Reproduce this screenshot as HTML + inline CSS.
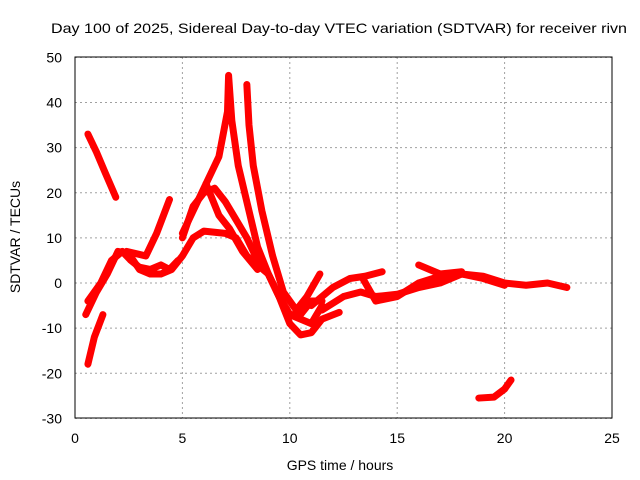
<!DOCTYPE html>
<html><head><meta charset="utf-8"><style>
body{margin:0;background:#fff}
svg{display:block;font-family:"Liberation Sans",sans-serif}
</style></head><body>
<svg id="chart" width="640" height="480" viewBox="0 0 640 480">
<rect width="640" height="480" fill="#fff"/>
<text x="339" y="33" font-size="14" text-anchor="middle" textLength="576" lengthAdjust="spacingAndGlyphs">Day 100 of 2025, Sidereal Day-to-day VTEC variation (SDTVAR) for receiver rivn</text>
<g id="grid"></g>
<g id="series"></g>
<rect x="75" y="57" width="537" height="361" fill="none" stroke="#000" stroke-width="1"/>
<text x="340" y="470" font-size="14" text-anchor="middle">GPS time / hours</text>
<text x="0" y="0" font-size="14" text-anchor="middle" transform="translate(20,237) rotate(-90)">SDTVAR / TECUs</text>
</svg>
<script>
const xTicks=[0,5,10,15,20,25];
const yTicks=[50,40,30,20,10,0,-10,-20,-30];
const s1t=[0.6,1.0,1.4,1.9], s1v=[33,29,24.5,19];
const s2t=[0.6,0.9,1.3], s2v=[-18,-12,-7];
const s3t=[0.5,1,1.5,2,2.5,3,3.5,4,4.5,5,5.5,6,7,7.5,8,9,9.5,10,10.5,11,11.5,12.3];
const s3v=[-7,-2,2,7,6.5,3,2,2,3,6,10,11.5,11,10,6,2,-3,-9,-11.5,-11,-8,-6.5];
const s4t=[0.6,1.2,1.7,2.2,2.6,3,3.5,4,4.4,4.8], s4v=[-4,0,5,7,5,3.5,3,4,3,5];
const s5t=[2.4,3.3,3.8,4.4], s5v=[7,6,11,18.5];
const s6t=[5,5.5,6,6.5,7,7.5,8,8.5,9,9.5,10,10.5,11,11.5], s6v=[10,17,20,21,18,14,10,5,2,-3,-7,-7,-4,-4];
const s7t=[5,5.7,6.2,6.7,7.1,7.15,7.3,7.6,8,8.5,9,9.5,10,11,11.5], s7v=[11,18,23,28,38,46,36,26,18,8,2,-3,-7,-9,-5];
const s8t=[8,8.1,8.3,8.7,9.2,9.7,10.3,10.8,11.4], s8v=[44,35,26,16,6,-2,-6,-3,2];
const s9t=[6.1,6.7,7.2,7.8,8.5], s9v=[22,15,12,7,3];
const s10t=[11,12,12.8,13.5,14.3], s10v=[-5,-1,1,1.5,2.5];
const s11t=[11.5,12.5,13.3,14,15,16,17,18,19,20,21,22,22.9], s11v=[-6,-3,-2,-3,-2.5,-1,0,2,1.5,0,-0.5,0,-1];
const s12t=[13.4,14,15,16,17,18,19,20], s12v=[1,-4,-3,0,1.5,2,1,-0.5];
const s13t=[16,17,18], s13v=[4,2,2.5];
const s14t=[18.8,19.5,20,20.3], s14v=[-25.5,-25.3,-23.5,-21.5];
const allSeries=[[s1t,s1v],[s2t,s2v],[s3t,s3v],[s4t,s4v],[s5t,s5v],[s6t,s6v],[s7t,s7v],[s8t,s8v],[s9t,s9v],[s10t,s10v],[s11t,s11v],[s12t,s12v],[s13t,s13v],[s14t,s14v]];
const NS='http://www.w3.org/2000/svg';
const X=t=>75+t*(537/25);
const Y=v=>283-v*(361/80);
const grid=document.getElementById('grid');
xTicks.forEach(t=>{
  const l=document.createElementNS(NS,'line');
  
  
  l.setAttribute('x1',X(t));l.setAttribute('x2',X(t));l.setAttribute('y1',57);l.setAttribute('y2',418);
  l.setAttribute('stroke','#a0a0a0');l.setAttribute('stroke-dasharray','2,3');
  grid.appendChild(l);
  const tx=document.createElementNS(NS,'text');
  
  
  tx.setAttribute('x',X(t));tx.setAttribute('y',443);tx.setAttribute('font-size','14');tx.setAttribute('text-anchor','middle');
  tx.textContent=t;grid.appendChild(tx);
});
yTicks.forEach(v=>{
  const l=document.createElementNS(NS,'line');
  
  
  l.setAttribute('x1',75);l.setAttribute('x2',612);l.setAttribute('y1',Y(v));l.setAttribute('y2',Y(v));
  l.setAttribute('stroke','#a0a0a0');l.setAttribute('stroke-dasharray','2,3');
  grid.appendChild(l);
  const tx=document.createElementNS(NS,'text');
  
  
  tx.setAttribute('x',62);tx.setAttribute('y',Y(v)+5);tx.setAttribute('font-size','14');tx.setAttribute('text-anchor','end');
  tx.textContent=v;grid.appendChild(tx);
});
const sg=document.getElementById('series');
allSeries.forEach(([ts,vs])=>{
  const p=document.createElementNS(NS,'polyline');
  
  
  p.setAttribute('points',ts.map((t,i)=>X(t)+','+Y(vs[i])).join(' '));
  p.setAttribute('fill','none');p.setAttribute('stroke','#ff0000');p.setAttribute('stroke-width','7');
  p.setAttribute('stroke-linejoin','round');p.setAttribute('stroke-linecap','round');
  sg.appendChild(p);
});
</script>
</body></html>
